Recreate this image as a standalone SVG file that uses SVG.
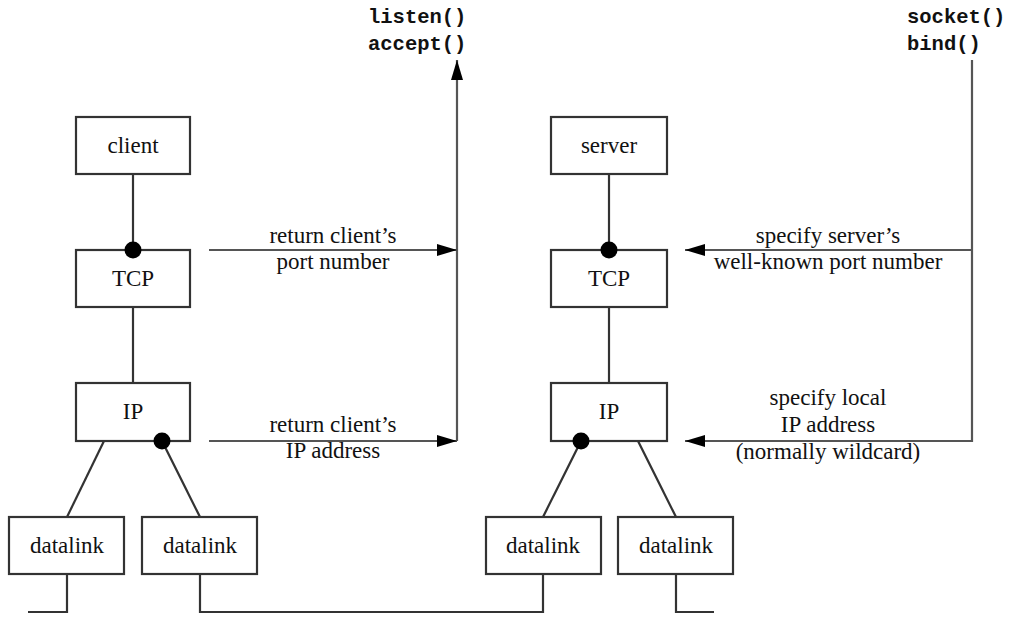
<svg xmlns="http://www.w3.org/2000/svg" width="1009" height="617" viewBox="0 0 1009 617">
<style>
.box{fill:#fff;stroke:#333;stroke-width:2.2}
.lbl{font-family:"Liberation Serif",serif;font-size:23px;fill:#111;text-anchor:middle}
.mono{font-family:"Liberation Mono",monospace;font-size:20.5px;font-weight:bold;fill:#111}
.ln{fill:none;stroke:#333;stroke-width:2.2}
.ar{fill:none;stroke:#555;stroke-width:2.2}
.dot{fill:#000}
</style>
<defs>
<marker id="ah" markerWidth="20" markerHeight="12" refX="20" refY="6" orient="auto" markerUnits="userSpaceOnUse">
<path d="M0,0 L20,6 L0,12 Z" fill="#000"/>
</marker>
</defs>
<rect width="1009" height="617" fill="#fff"/>
<g id="connectors">
<line class="ln" x1="133" y1="174" x2="133" y2="250"/>
<line class="ln" x1="133" y1="307" x2="133" y2="383"/>
<line class="ln" x1="104" y1="441" x2="67" y2="517"/>
<line class="ln" x1="162" y1="441" x2="200" y2="517"/>
<line class="ln" x1="609" y1="174" x2="609" y2="250"/>
<line class="ln" x1="609" y1="307" x2="609" y2="383"/>
<line class="ln" x1="581" y1="441" x2="543" y2="517"/>
<line class="ln" x1="638" y1="441" x2="676" y2="517"/>
<polyline class="ln" points="67,574 67,612 28,612"/>
<polyline class="ln" points="200,574 200,612 543,612 543,574"/>
<polyline class="ln" points="676,574 676,612 714,612"/>
<line class="ar" x1="457" y1="441" x2="457" y2="60" marker-end="url(#ah)"/>
<line class="ar" x1="209" y1="250" x2="457" y2="250" marker-end="url(#ah)"/>
<line class="ar" x1="209" y1="441" x2="457" y2="441" marker-end="url(#ah)"/>
<polyline class="ar" points="972,60 972,441 685,441" marker-end="url(#ah)"/>
<line class="ar" x1="972" y1="250" x2="685" y2="250" marker-end="url(#ah)"/>
</g>
<g id="client"><rect class="box" x="76" y="117" width="114" height="57"/><text class="lbl" x="133" y="153">client</text></g>
<g id="tcp-client"><rect class="box" x="76" y="250" width="114" height="57"/><text class="lbl" x="133" y="286">TCP</text></g>
<g id="ip-client"><rect class="box" x="76" y="383" width="114" height="58"/><text class="lbl" x="133" y="419">IP</text></g>
<g id="datalink1"><rect class="box" x="9" y="517" width="115" height="57"/><text class="lbl" x="67" y="553">datalink</text></g>
<g id="datalink2"><rect class="box" x="142" y="517" width="115" height="57"/><text class="lbl" x="200" y="553">datalink</text></g>
<g id="server"><rect class="box" x="551" y="117" width="116" height="57"/><text class="lbl" x="609" y="153">server</text></g>
<g id="tcp-server"><rect class="box" x="551" y="250" width="116" height="57"/><text class="lbl" x="609" y="286">TCP</text></g>
<g id="ip-server"><rect class="box" x="551" y="383" width="116" height="58"/><text class="lbl" x="609" y="419">IP</text></g>
<g id="datalink3"><rect class="box" x="486" y="517" width="115" height="57"/><text class="lbl" x="543" y="553">datalink</text></g>
<g id="datalink4"><rect class="box" x="618" y="517" width="115" height="57"/><text class="lbl" x="676" y="553">datalink</text></g>
<g id="junctions">
<circle class="dot" cx="133" cy="250" r="8.5"/>
<circle class="dot" cx="162" cy="441" r="8.5"/>
<circle class="dot" cx="609" cy="250" r="8.5"/>
<circle class="dot" cx="581" cy="441" r="8.5"/>
</g>
<g id="labels">
<text class="mono" x="368" y="23">listen()</text>
<text class="mono" x="368" y="50">accept()</text>
<text class="mono" x="907" y="23">socket()</text>
<text class="mono" x="907" y="50">bind()</text>
<text class="lbl" x="333" y="243">return client’s</text>
<text class="lbl" x="333" y="269">port number</text>
<text class="lbl" x="333" y="432">return client’s</text>
<text class="lbl" x="333" y="458">IP address</text>
<text class="lbl" x="828" y="243">specify server’s</text>
<text class="lbl" x="828" y="269">well-known port number</text>
<text class="lbl" x="828" y="405">specify local</text>
<text class="lbl" x="828" y="432">IP address</text>
<text class="lbl" x="828" y="459">(normally wildcard)</text>
</g>
</svg>
